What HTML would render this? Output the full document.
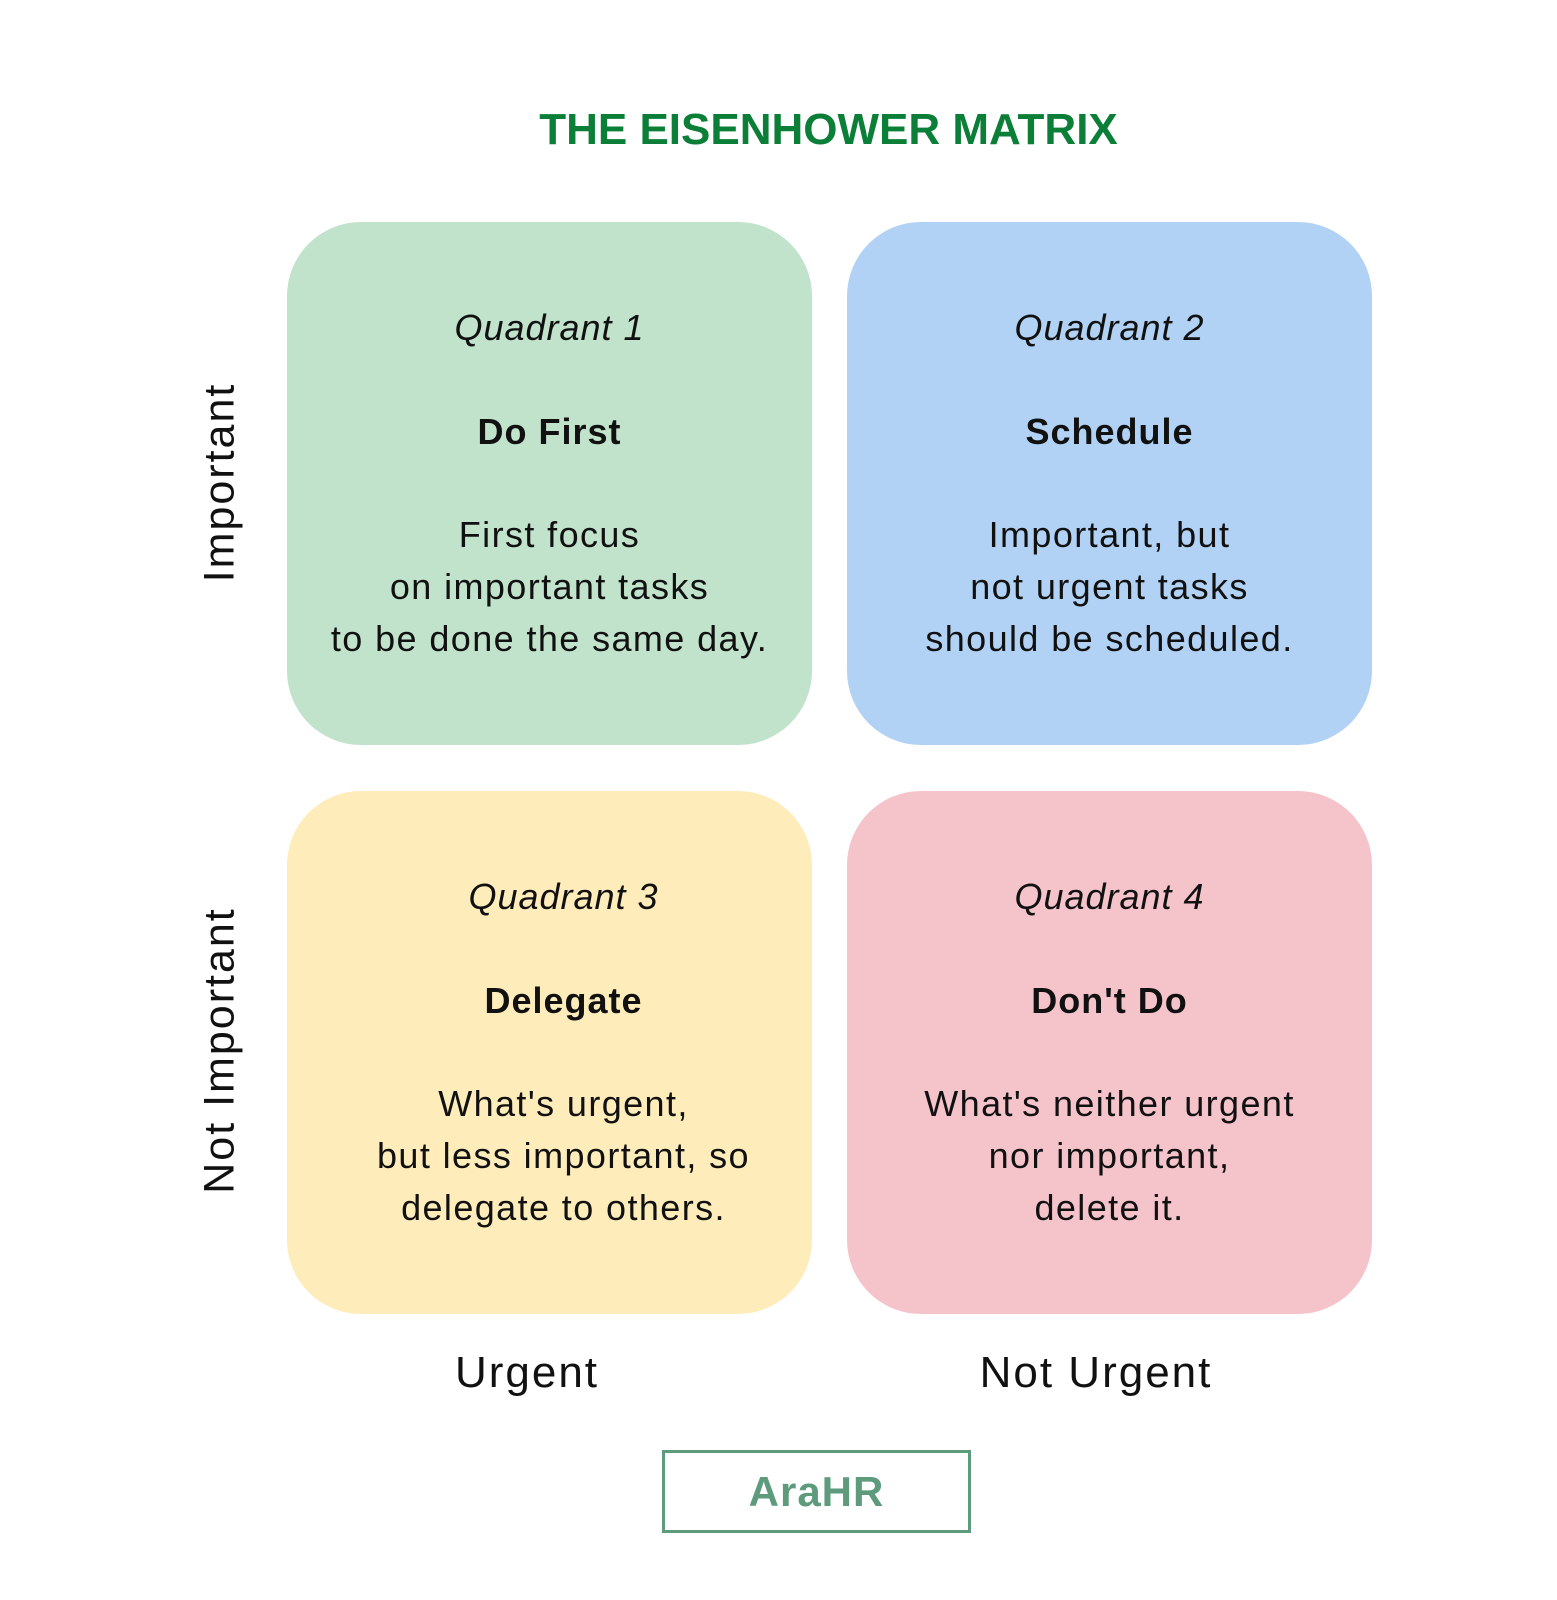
<!DOCTYPE html>
<html><head><style>
body{margin:0;width:1557px;height:1600px;background:#fff;position:relative;font-family:"Liberation Sans","DejaVu Sans",sans-serif;color:#111;overflow:hidden}
.t{position:absolute;left:0;width:1557px;text-align:center;top:105px;font-size:44px;font-weight:bold;color:#0b7f37;letter-spacing:0px;padding-left:100px;box-sizing:border-box}
.q{position:absolute;width:525px;height:523px;border-radius:74px;text-align:center}
.q .a{position:absolute;left:0;right:0;top:85px;font-size:36px;font-style:italic;letter-spacing:1px}
.q .b{position:absolute;left:0;right:0;top:189px;font-size:36px;font-weight:bold;letter-spacing:1px}
.q .c{position:absolute;left:0;right:0;top:287px;font-size:36px;line-height:52px;letter-spacing:1.4px}
.v{position:absolute;font-size:43px;letter-spacing:2px;transform:rotate(-90deg);transform-origin:center;white-space:nowrap;text-align:center;width:400px;left:20px}
.h{position:absolute;font-size:44px;letter-spacing:2px;top:1348px;width:400px;text-align:center}
</style></head><body>
<div class="t">THE EISENHOWER MATRIX</div>
<div class="v" style="top:458px">Important</div>
<div class="v" style="top:1026px">Not Important</div>
<div class="q" style="left:287px;top:222px;background:#c1e2cb"><div class="a">Quadrant 1</div><div class="b">Do First</div><div class="c">First focus<br>on important tasks<br>to be done the same day.</div></div>
<div class="q" style="left:847px;top:222px;background:#b1d2f5"><div class="a">Quadrant 2</div><div class="b">Schedule</div><div class="c">Important, but<br>not urgent tasks<br>should be scheduled.</div></div>
<div class="q" style="left:287px;top:791px;background:#feecbb"><div class="a" style="left:28px">Quadrant 3</div><div class="b" style="left:28px">Delegate</div><div class="c" style="left:28px">What's urgent,<br>but less important, so<br>delegate to others.</div></div>
<div class="q" style="left:847px;top:791px;background:#f5c4cb"><div class="a">Quadrant 4</div><div class="b">Don't Do</div><div class="c">What's neither urgent<br>nor important,<br>delete it.</div></div>
<div class="h" style="left:327px">Urgent</div>
<div class="h" style="left:896px">Not Urgent</div>
<div style="position:absolute;left:662px;top:1450px;width:303px;height:77px;border:3px solid #5e9a7c;text-align:center;line-height:77px;font-size:42px;font-weight:bold;color:#5e9a7c;letter-spacing:1px">AraHR</div>
</body></html>
